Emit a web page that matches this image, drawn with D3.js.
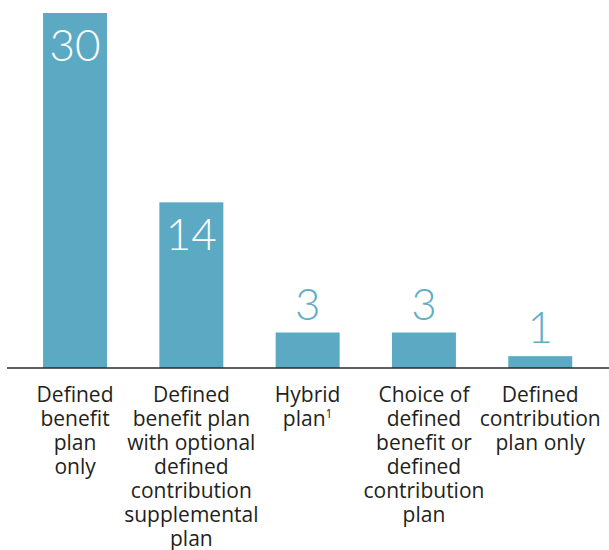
<!DOCTYPE html>
<html lang="en">
<head>
  <meta charset="UTF-8">
  <title>Plan types</title>
  <script src="https://d3js.org/d3.v7.min.js"></script>
  <style>
    body { margin: 0; background: #fff; }
    svg { display: block; }
    .bar { fill: #5ba9c3; }
    .cat { font-family: "Open Sans", sans-serif; font-size: 21px; fill: #231f20; }
    .val { font-family: "Lato", sans-serif; font-weight: 300; font-size: 44px; }
  </style>
</head>
<body>
  <svg width="609" height="550"></svg>
  <script>
    const categories = ["db", "dbdc", "hybrid", "choice", "dc"];
    const values = [30, 14, 3, 3, 1];
    const labelLines = [
      ["Defined", "benefit", "plan", "only"],
      ["Defined", "benefit plan", "with optional", "defined", "contribution", "supplemental", "plan"],
      ["Hybrid", "plan"],
      ["Choice of", "defined", "benefit or", "defined", "contribution", "plan"],
      ["Defined", "contribution", "plan only"]
    ];
    const footnotes = ["", "", "1", "", ""];

    const svg = d3.select("svg");
    const baseY = 368;

    const x = d3.scaleBand()
      .domain(categories)
      .range([16.9, 598.4])
      .paddingInner(0.45)
      .paddingOuter(0.225);

    const y = d3.scaleLinear()
      .domain([0, 30])
      .range([baseY, 13]);

    svg.selectAll(".bar")
      .data(values)
      .enter()
      .append("rect")
      .attr("class", "bar")
      .attr("x", (d, i) => x(categories[i]))
      .attr("y", d => y(d))
      .attr("width", x.bandwidth())
      .attr("height", d => baseY - y(d));

    // values: big ones inside the bar, small ones sit above it
    svg.selectAll(".val")
      .data(values)
      .enter()
      .append("text")
      .attr("class", "val")
      .attr("text-anchor", "middle")
      .attr("x", (d, i) => x(categories[i]) + x.bandwidth() / 2)
      .attr("y", d => d >= 10 ? y(d) + 48 : y(d) - 13)
      .attr("fill", d => d >= 10 ? "#ffffff" : "#5fadc6")
      .text(d => d);

    svg.append("line")
      .attr("x1", 7).attr("x2", 609)
      .attr("y1", baseY).attr("y2", baseY)
      .attr("stroke", "#2b2b2b")
      .attr("stroke-width", 1.5);

    const cat = svg.selectAll(".cat")
      .data(labelLines)
      .enter()
      .append("text")
      .attr("class", "cat")
      .attr("text-anchor", "middle")
      .attr("transform", (d, i) => `translate(${x(categories[i]) + x.bandwidth() / 2},402)`);

    cat.each(function(lines, i) {
      const t = d3.select(this);
      lines.forEach((line, j) => {
        t.append("tspan").attr("x", 0).attr("y", j * 24).text(line);
        if (j === lines.length - 1 && footnotes[i]) {
          t.append("tspan").attr("font-size", 12).attr("dy", -8).text(footnotes[i]);
        }
      });
    });
  </script>
</body>
</html>
